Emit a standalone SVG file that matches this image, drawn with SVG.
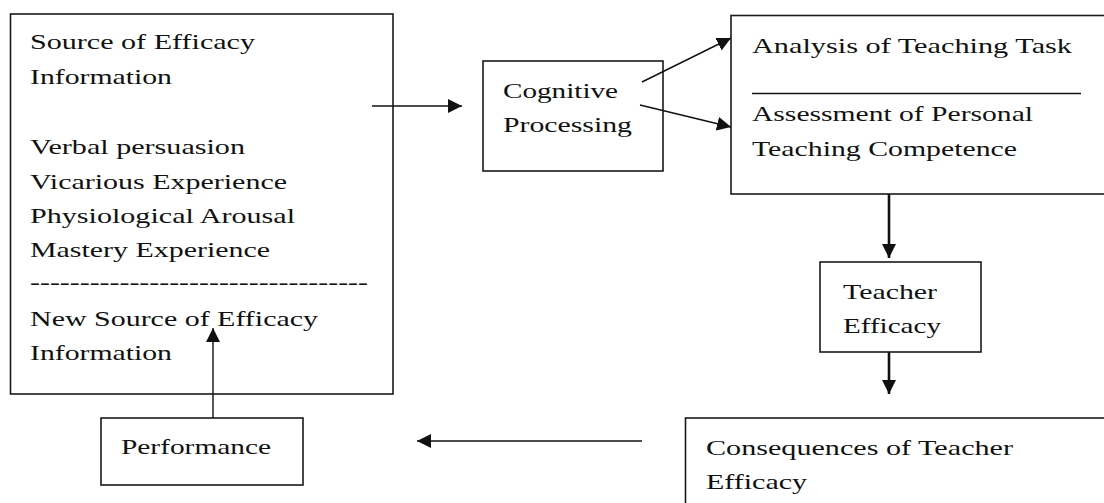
<svg xmlns="http://www.w3.org/2000/svg" width="1104" height="503" viewBox="0 0 1104 503">
<style>
.box{fill:#fff;stroke:#1a1a1a;stroke-width:1.6}
.t{font-family:"Liberation Serif","Times New Roman",serif;font-size:22px;fill:#111}
.c{stroke:#111;stroke-width:1.4;fill:none}
.ck{stroke:#111;stroke-width:2.6;fill:none}
</style>
<defs>
<marker id="ah" viewBox="0 0 14 14" refX="14" refY="7" markerWidth="14" markerHeight="14" markerUnits="userSpaceOnUse" orient="auto">
<path d="M0,0 L14,7 L0,14 z" fill="#111"/>
</marker>
</defs>
<rect width="1104" height="503" fill="#fff"/>
<g id="source">
<rect class="box" x="10.5" y="14" width="382.5" height="380"/>
<text class="t" x="30" y="49" textLength="225" lengthAdjust="spacingAndGlyphs">Source of Efficacy</text>
<text class="t" x="30" y="84" textLength="142" lengthAdjust="spacingAndGlyphs">Information</text>
<text class="t" x="30" y="154" textLength="215" lengthAdjust="spacingAndGlyphs">Verbal persuasion</text>
<text class="t" x="30" y="189" textLength="257" lengthAdjust="spacingAndGlyphs">Vicarious Experience</text>
<text class="t" x="30" y="223" textLength="265" lengthAdjust="spacingAndGlyphs">Physiological Arousal</text>
<text class="t" x="30" y="257" textLength="240" lengthAdjust="spacingAndGlyphs">Mastery Experience</text>
<text class="t" x="30" y="289" textLength="338" lengthAdjust="spacingAndGlyphs">----------------------------------</text>
<text class="t" x="30" y="326" textLength="288" lengthAdjust="spacingAndGlyphs">New Source of Efficacy</text>
<text class="t" x="30" y="360" textLength="142" lengthAdjust="spacingAndGlyphs">Information</text>
</g>
<g id="performance">
<rect class="box" x="101" y="418" width="202" height="67"/>
<text class="t" x="121" y="454" textLength="150" lengthAdjust="spacingAndGlyphs">Performance</text>
</g>
<g id="cognitive">
<rect class="box" x="483" y="61" width="180" height="110"/>
<text class="t" x="503" y="98" textLength="115" lengthAdjust="spacingAndGlyphs">Cognitive</text>
<text class="t" x="503" y="132" textLength="129" lengthAdjust="spacingAndGlyphs">Processing</text>
</g>
<g id="analysis">
<rect class="box" x="731" y="15.5" width="400" height="178.5"/>
<text class="t" x="752" y="53" textLength="320" lengthAdjust="spacingAndGlyphs">Analysis of Teaching Task</text>
<line x1="752" y1="93.5" x2="1081" y2="93.5" stroke="#111" stroke-width="1.4"/>
<text class="t" x="752" y="121" textLength="281" lengthAdjust="spacingAndGlyphs">Assessment of Personal</text>
<text class="t" x="752" y="156" textLength="265" lengthAdjust="spacingAndGlyphs">Teaching Competence</text>
</g>
<g id="teacher">
<rect class="box" x="820" y="262" width="161" height="90"/>
<text class="t" x="843" y="299" textLength="94" lengthAdjust="spacingAndGlyphs">Teacher</text>
<text class="t" x="843" y="333" textLength="98" lengthAdjust="spacingAndGlyphs">Efficacy</text>
</g>
<g id="consequences">
<rect class="box" x="685.5" y="418" width="450" height="120"/>
<text class="t" x="706" y="455" textLength="307" lengthAdjust="spacingAndGlyphs">Consequences of Teacher</text>
<text class="t" x="706" y="489" textLength="101" lengthAdjust="spacingAndGlyphs">Efficacy</text>
</g>
<g id="connectors">
<line class="c" x1="372" y1="106" x2="462" y2="106" marker-end="url(#ah)"/>
<line class="c" x1="642" y1="82" x2="731" y2="38" marker-end="url(#ah)"/>
<line class="c" x1="640" y1="105" x2="731" y2="127" marker-end="url(#ah)"/>
<line class="ck" x1="889" y1="194" x2="889" y2="258" marker-end="url(#ah)"/>
<line class="ck" x1="889" y1="352" x2="889" y2="394" marker-end="url(#ah)"/>
<line class="c" x1="642" y1="441" x2="417" y2="441" marker-end="url(#ah)"/>
<line class="c" x1="213" y1="418" x2="213" y2="328" marker-end="url(#ah)"/>
</g>
</svg>
